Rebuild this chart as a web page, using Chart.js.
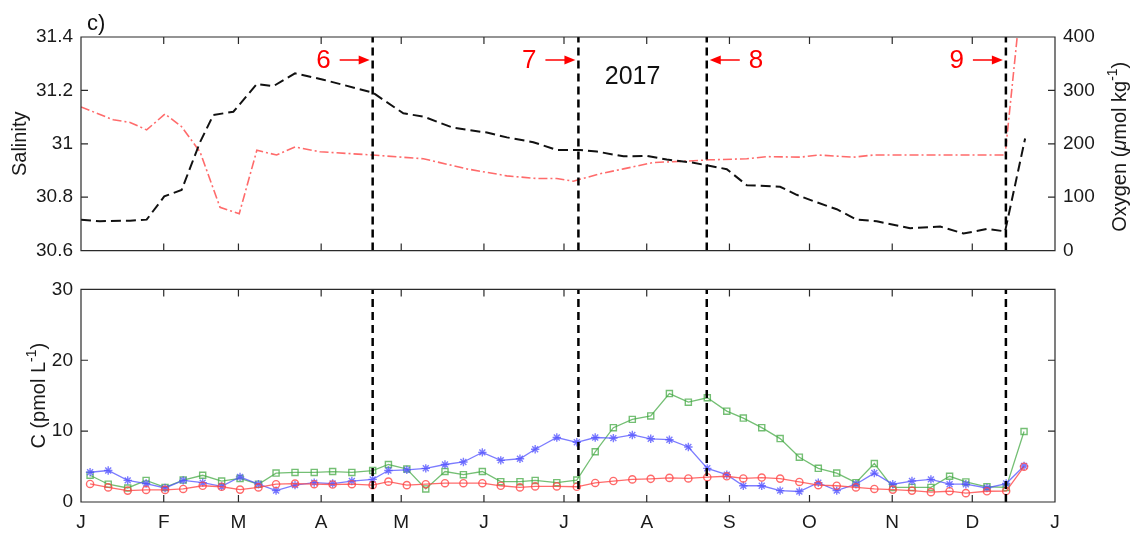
<!DOCTYPE html>
<html>
<head>
<meta charset="utf-8">
<script src="https://cdn.jsdelivr.net/npm/chart.js@4"></script>
<style>
html, body { margin: 0; padding: 0; background: #fff; }
#top { position: absolute; left: 0; top: 0; width: 1136px; height: 270px; }
#bot { position: absolute; left: 0; top: 270px; width: 1136px; height: 265px; }
</style>
</head>
<body>
<div id="top"><canvas id="chartTop"></canvas></div>
<div id="bot"><canvas id="chartBot"></canvas></div>
<script>
// ---- data (day of year 2017) ----
const monthStarts = [0, 31, 59, 90, 120, 151, 181, 212, 243, 273, 304, 334, 365];
const monthLabels = ["J", "F", "M", "A", "M", "J", "J", "A", "S", "O", "N", "D", "J"];

const eventDays = [109.3, 186.4, 234.5, 346.6];
const eventLabels = ["6", "7", "8", "9"];
const eventArrow = ["right", "right", "left", "right"];
const yearLabel = "2017";

const salDays = [0, 7.1, 18.4, 24.6, 31.2, 37.7, 44.6, 49.6, 57.1, 65.9, 72.1, 80.2, 90.8, 109.3,
  120.8, 128.3, 139.5, 152.1, 159.6, 169.5, 178.3, 187.0, 193.3, 203.3, 212.0, 219.5, 229.5, 242.0,
  249.5, 262.0, 268.2, 274.5, 283.2, 290.7, 298.2, 310.7, 322.0, 330.7, 339.5, 346.3, 353.8];
const salinity = [30.716, 30.710, 30.712, 30.716, 30.803, 30.827, 31.006, 31.108, 31.120, 31.224,
  31.216, 31.264, 31.240, 31.192, 31.114, 31.102, 31.060, 31.042, 31.024, 31.006, 30.977, 30.977,
  30.971, 30.953, 30.955, 30.941, 30.929, 30.905, 30.845, 30.839, 30.809, 30.785, 30.755, 30.716,
  30.710, 30.684, 30.690, 30.664, 30.681, 30.672, 31.020];

const oxDays = [0, 12.1, 18.4, 24.6, 31.5, 37.7, 44.6, 52.1, 59.3, 65.9, 73.3, 80.2, 89.6, 109.3,
  128.3, 144.6, 159.6, 170.8, 178.3, 184.5, 194.5, 203.3, 214.5, 224.5, 235.8, 249.5, 257.0, 269.5,
  276.4, 289.5, 297.0, 346.3, 353.8];
const oxygen = [269, 245, 240, 226, 256, 232, 185, 81, 69, 188, 179, 194, 185, 179, 172, 153, 140,
  135, 135, 130, 144, 153, 165, 167, 170, 172, 176, 175, 179, 175, 179, 179, 545];

const cDays = [3.4, 10.2, 17.5, 24.4, 31.5, 38.3, 45.6, 52.7, 59.6, 66.5, 73.1, 80.2, 87.4, 94.3,
  101.5, 109.3, 115.2, 122.1, 129.2, 136.4, 143.3, 150.4, 157.3, 164.5, 170.2, 178.3, 185.8, 192.7,
  199.5, 206.6, 213.5, 220.5, 227.6, 234.7, 242.0, 248.2, 255.1, 262.0, 269.2, 276.3, 283.2, 290.4,
  297.3, 304.2, 311.4, 318.5, 325.5, 331.6, 339.5, 346.7, 353.4];
const cRed = [2.55, 2.06, 1.61, 1.71, 1.71, 1.84, 2.29, 2.15, 1.75, 2.06, 2.51, 2.60, 2.51, 2.47,
  2.51, 2.38, 2.87, 2.38, 2.51, 2.65, 2.65, 2.65, 2.29, 2.06, 2.20, 2.20, 2.15, 2.69, 2.96, 3.19,
  3.27, 3.40, 3.32, 3.50, 3.63, 3.32, 3.45, 3.30, 2.83, 2.38, 2.29, 2.06, 1.84, 1.75, 1.61, 1.39,
  1.52, 1.25, 1.52, 1.55, 4.98];
const cBlue = [4.20, 4.44, 3.05, 2.60, 1.98, 3.05, 2.73, 2.20, 3.54, 2.51, 1.61, 2.38, 2.73, 2.60,
  2.96, 3.19, 4.44, 4.53, 4.75, 5.29, 5.65, 7.00, 5.88, 6.10, 7.44, 9.10, 8.43, 9.10, 9.01, 9.46,
  8.92, 8.79, 7.76, 4.75, 3.86, 2.29, 2.29, 1.61, 1.48, 2.73, 1.61, 2.51, 4.08, 2.51, 2.96, 3.19,
  2.51, 2.51, 1.98, 2.60, 5.07];
const cGreen = [3.77, 2.51, 1.98, 3.05, 2.06, 3.09, 3.77, 2.96, 3.32, 2.51, 4.08, 4.17, 4.17, 4.30,
  4.17, 4.44, 5.29, 4.66, 1.84, 4.30, 3.86, 4.30, 2.87, 2.87, 3.05, 2.73, 3.09, 7.09, 10.49, 11.66,
  12.15, 15.30, 14.09, 14.71, 12.82, 11.84, 10.49, 8.95, 6.32, 4.75, 4.08, 2.73, 5.42, 2.06, 2.06,
  2.06, 3.63, 2.83, 2.15, 2.06, 9.95];

// ---- shared setup ----
const FONT = '"Liberation Sans", Arial, Helvetica, sans-serif';
Chart.defaults.font.family = FONT;
Chart.defaults.font.size = 19;
Chart.defaults.color = "#1a1a1a";

const pts = (xs, ys) => xs.map((d, i) => ({ x: d, y: ys[i] }));

// box + inward ticks, matlab style
const frame = {
  id: "frame",
  afterDraw(chart, args, o) {
    const { ctx, chartArea: a, scales } = chart;
    const L = 7;
    ctx.save();
    ctx.strokeStyle = "#2a2a2a";
    ctx.lineWidth = 1.2;
    ctx.beginPath();
    ctx.rect(a.left, a.top, a.right - a.left, a.bottom - a.top);
    scales.x.ticks.forEach(t => {
      const p = scales.x.getPixelForValue(t.value);
      ctx.moveTo(p, a.bottom); ctx.lineTo(p, a.bottom - L);
      ctx.moveTo(p, a.top); ctx.lineTo(p, a.top + L);
    });
    scales[o.left].ticks.forEach(t => {
      const p = scales[o.left].getPixelForValue(t.value);
      ctx.moveTo(a.left, p); ctx.lineTo(a.left + L, p);
    });
    scales[o.right].ticks.forEach(t => {
      const p = scales[o.right].getPixelForValue(t.value);
      ctx.moveTo(a.right, p); ctx.lineTo(a.right - L, p);
    });
    ctx.stroke();
    ctx.restore();
  }
};

// rotated axis title made of pieces (for italic mu and superscript)
function rotTitle(ctx, cx, cy, segs) {
  ctx.save();
  ctx.translate(cx, cy);
  ctx.rotate(-Math.PI / 2);
  ctx.textBaseline = "middle";
  ctx.textAlign = "left";
  ctx.fillStyle = "#1a1a1a";
  let w = 0;
  segs.forEach(s => { ctx.font = s.f; w += ctx.measureText(s.t).width; });
  let xx = -w / 2;
  segs.forEach(s => {
    ctx.font = s.f;
    ctx.fillText(s.t, xx, s.dy || 0);
    xx += ctx.measureText(s.t).width;
  });
  ctx.restore();
}

const xAxis = (h, showLabels) => ({
  type: "linear", min: 0, max: 365, position: "bottom",
  afterBuildTicks: s => { s.ticks = monthStarts.map(v => ({ value: v })); },
  ticks: {
    display: showLabels, autoSkip: false, maxRotation: 0, padding: 9,
    callback: v => monthLabels[monthStarts.indexOf(v)]
  },
  grid: { display: false, drawTicks: false },
  border: { display: false },
  afterFit: s => { s.height = h; }
});

const eventSets = (lo, hi, axis) => eventDays.map(d => ({
  data: [{ x: d, y: lo }, { x: d, y: hi }],
  yAxisID: axis,
  borderColor: "#000", borderWidth: 2.5, borderDash: [8, 5],
  pointRadius: 0
}));

// ---- annotations for the top panel ----
const notes = {
  id: "notes",
  afterDraw(chart) {
    const { ctx, scales: { x, y } } = chart;
    ctx.save();
    ctx.fillStyle = "#111";
    ctx.textBaseline = "middle";
    ctx.font = "22px " + FONT;
    ctx.textAlign = "left";
    ctx.fillText("c)", 87, 24);

    ctx.font = "25px " + FONT;
    ctx.textAlign = "center";
    ctx.fillText(yearLabel, x.getPixelForValue(206.7), y.getPixelForValue(31.249));

    ctx.fillStyle = "#ff0000";
    ctx.strokeStyle = "#ff0000";
    ctx.lineWidth = 1.5;
    const ay = 60;
    eventDays.forEach((d, i) => {
      const px = x.getPixelForValue(d);
      const s = eventArrow[i] === "right" ? -1 : 1;
      const tip = px + s * 3, tail = px + s * 33;
      ctx.beginPath();
      ctx.moveTo(tail, ay); ctx.lineTo(tip + s * 8, ay);
      ctx.stroke();
      ctx.beginPath();
      ctx.moveTo(tip, ay);
      ctx.lineTo(tip + s * 11, ay - 4.5);
      ctx.lineTo(tip + s * 11, ay + 4.5);
      ctx.closePath();
      ctx.fill();
      ctx.font = "26px " + FONT;
      ctx.textAlign = s < 0 ? "right" : "left";
      ctx.fillText(eventLabels[i], tail + s * 9, ay + 1);
    });

    rotTitle(ctx, 20, (chart.chartArea.top + chart.chartArea.bottom) / 2,
      [{ t: "Salinity", f: "20px " + FONT }]);
    rotTitle(ctx, 1120, (chart.chartArea.top + chart.chartArea.bottom) / 2 + 3, [
      { t: "Oxygen (", f: "20px " + FONT },
      { t: "\u03bc", f: "italic 20px " + FONT },
      { t: "mol kg", f: "20px " + FONT },
      { t: "-1", f: "14px " + FONT, dy: -7 },
      { t: ")", f: "20px " + FONT }
    ]);
    ctx.restore();
  }
};

const cTitle = {
  id: "cTitle",
  afterDraw(chart) {
    rotTitle(chart.ctx, 39, (chart.chartArea.top + chart.chartArea.bottom) / 2, [
      { t: "C (pmol L", f: "20px " + FONT },
      { t: "-1", f: "14px " + FONT, dy: -7 },
      { t: ")", f: "20px " + FONT }
    ]);
  }
};

// ---- top panel: salinity & oxygen ----
new Chart(document.getElementById("chartTop"), {
  type: "line",
  data: {
    datasets: [
      ...eventSets(30.6, 31.4, "y"),
      {
        label: "Salinity", data: pts(salDays, salinity), yAxisID: "y",
        borderColor: "#111", borderWidth: 2, borderDash: [10, 5], pointRadius: 0, tension: 0
      },
      {
        label: "Oxygen", data: pts(oxDays, oxygen), yAxisID: "y2",
        borderColor: "#ff6b6b", borderWidth: 1.6, borderDash: [9, 3, 2, 3], pointRadius: 0, tension: 0
      }
    ]
  },
  options: {
    responsive: true, maintainAspectRatio: false, animation: false, events: [],
    layout: { padding: { top: 37, left: 0, right: 0, bottom: 0 } },
    plugins: { legend: { display: false }, tooltip: { enabled: false }, frame: { left: "y", right: "y2" } },
    scales: {
      x: xAxis(10, false),
      y: {
        position: "left", min: 30.6, max: 31.4,
        ticks: { stepSize: 0.2, padding: 8, callback: v => String(Math.round(v * 10) / 10) },
        grid: { display: false, drawTicks: false }, border: { display: false },
        afterFit: s => { s.width = 81; }
      },
      y2: {
        position: "right", min: 0, max: 400,
        ticks: { stepSize: 100, padding: 8 },
        grid: { display: false, drawTicks: false }, border: { display: false },
        afterFit: s => { s.width = 81; }
      }
    }
  },
  plugins: [frame, notes]
});

// ---- bottom panel: concentrations ----
const series = (data, color, style, r) => ({
  data, yAxisID: "y",
  borderColor: color, borderWidth: 1.3, tension: 0,
  pointStyle: style, pointRadius: r, pointBorderWidth: 1.4,
  pointBorderColor: color, pointBackgroundColor: "rgba(0,0,0,0)"
});

new Chart(document.getElementById("chartBot"), {
  type: "line",
  data: {
    datasets: [
      ...eventSets(0, 30, "y"),
      series(pts(cDays, cRed), "rgba(255,70,70,0.8)", "circle", 3.6),
      series(pts(cDays, cBlue), "rgba(80,80,255,0.75)", "star", 4.2),
      series(pts(cDays, cGreen), "rgba(70,170,70,0.75)", "rect", 4.3)
    ]
  },
  options: {
    responsive: true, maintainAspectRatio: false, animation: false, events: [],
    layout: { padding: { top: 9, left: 0, right: 81, bottom: 0 } },
    plugins: { legend: { display: false }, tooltip: { enabled: false }, frame: { left: "y", right: "y" } },
    scales: {
      x: xAxis(33, true),
      y: {
        position: "left", min: 0, max: 30,
        ticks: { stepSize: 10, padding: 8 },
        grid: { display: false, drawTicks: false }, border: { display: false },
        afterFit: s => { s.width = 81; }
      }
    }
  },
  plugins: [frame, cTitle]
});
</script>
</body>
</html>
